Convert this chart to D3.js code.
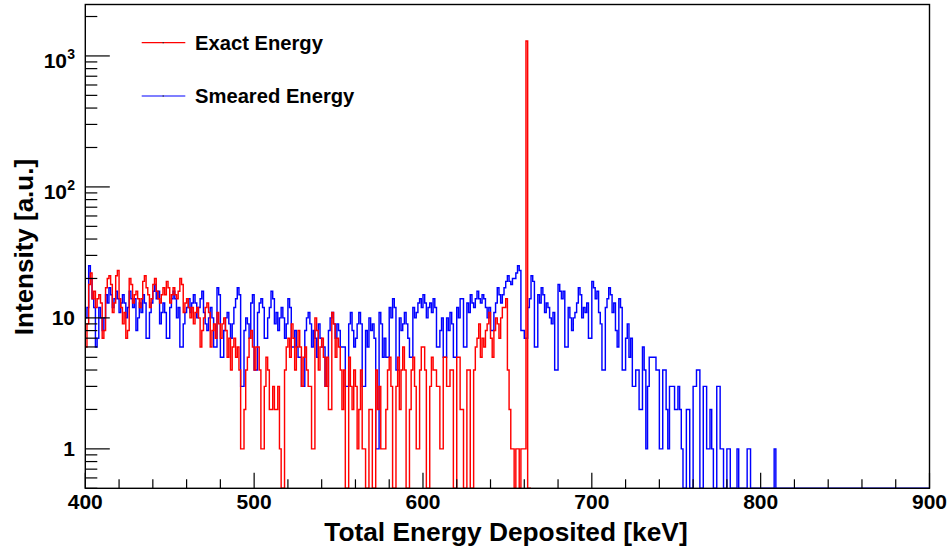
<!DOCTYPE html>
<html>
<head>
<meta charset="utf-8">
<script src="https://cdn.jsdelivr.net/npm/d3@7"></script>
<style>
  html, body { margin: 0; padding: 0; background: #fff; }
  svg { display: block; }
  text { font-family: "Liberation Sans", Arial, Helvetica, sans-serif; font-weight: bold; fill: #000; }
</style>
</head>
<body>
<svg id="chart" width="948" height="550"></svg>
<script>
// ---- data (1 keV bins starting at 400 keV) ----
const binStart = 400;
const binWidth = 1;
const xRange = [400, 900];
const yRange = [0.5, 2470];
const xTickValues = [400, 500, 600, 700, 800, 900];
const yMajorTicks = [1, 10, 100, 1000];
const seriesNames = ["Exact Energy", "Smeared Energy"];
const seriesColors = ["#ff0000", "#0000ff"];

const exactEnergy = [
  6,9,18,22,14,16,12,14,15,13,      // 400
  7,8,17,20,21,18,11,13,21,23,      // 410
  14,12,9,11,7,8,20,18,13,15,       // 420
  16,14,12,14,19,21,17,15,12,14,    // 430
  18,20,16,14,13,15,17,15,19,17,    // 440
  13,15,17,15,14,16,20,18,11,13,    // 450
  14,12,10,12,9,11,12,10,6,8,       // 460
  10,12,13,11,6,8,9,7,11,9,         // 470
  7,9,10,8,5,7,4,6,7,5,             // 480
  6,4,1,1,2,4,5,7,8,6,              // 490
  4,6,6,4,1,1,3,5,4,2,              // 500
  2,3,2,2,3,1,0,0,4,6,              // 510
  7,5,9,7,4,6,8,6,3,5,              // 520
  6,4,3,3,1,1,10,8,4,6,             // 530
  7,5,3,5,2,2,11,9,5,7,             // 540
  6,4,2,4,0,0,5,3,2,4,              // 550
  3,1,2,4,1,1,0,0,2,2,              // 560
  0,0,4,2,3,1,1,1,2,4,              // 570
  5,3,0,0,3,5,2,4,6,4,              // 580
  0,0,2,4,5,3,1,1,4,6,              // 590
  6,4,0,0,3,5,4,4,3,3,              // 600
  1,1,5,5,3,3,4,4,0,0,              // 610
  5,5,2,2,0,0,4,4,0,0,              // 620
  4,6,7,9,5,7,6,8,9,11,             // 630
  7,5,8,10,9,7,10,12,12,14,         // 640
  4,2,1,1,0,1,1,0,1,1,              // 650
  1,1300,0,0                        // 660
];

const smearedEnergy = [
  10,12,25,20,14,12,6,7,12,10,      // 400
  8,10,15,13,17,15,12,14,16,14,     // 410
  11,13,15,13,10,12,16,14,12,14,    // 420
  8,10,13,11,15,13,7,7,11,13,       // 430
  16,18,14,16,9,11,13,11,7,7,       // 440
  12,14,16,14,10,12,6,6,9,11,       // 450
  12,14,11,13,15,13,10,12,14,16,    // 460
  11,9,8,10,12,10,6,6,17,15,        // 470
  5,5,8,10,11,9,7,9,12,14,          // 480
  17,15,3,3,8,10,9,7,13,15,         // 490
  4,4,11,13,14,12,7,7,10,12,        // 500
  16,14,9,11,8,10,12,10,7,9,        // 510
  14,12,6,6,8,6,5,5,3,3,            // 520
  8,10,11,9,6,8,7,5,9,7,            // 530
  6,6,3,3,8,10,11,9,7,9,            // 540
  8,6,6,6,3,3,9,11,8,6,             // 550
  7,9,11,9,3,3,8,6,10,8,            // 560
  9,7,1,1,11,9,5,7,5,5,             // 570
  12,10,14,12,4,4,10,8,9,11,        // 580
  9,7,5,5,12,10,11,13,14,12,        // 590
  15,13,10,12,13,11,14,12,6,6,      // 600
  8,10,5,5,10,8,11,9,5,5,           // 610
  12,10,14,14,6,6,13,11,15,13,      // 620
  12,14,16,14,13,15,14,12,10,12,    // 630
  8,8,11,13,17,15,13,15,17,19,      // 640
  21,19,18,20,20,22,25,23,8,8,      // 650
  7,7,12,14,21,19,6,6,15,13,        // 660
  17,15,11,13,12,10,9,11,4,4,       // 670
  18,16,14,16,6,6,12,10,8,10,       // 680
  11,13,17,15,10,12,11,13,7,7,      // 690
  19,17,14,16,11,9,4,4,12,14,       // 700
  17,15,11,13,8,6,14,12,4,4,        // 710
  7,9,5,7,3,3,4,4,2,2,              // 720
  6,4,1,3,5,5,5,5,4,4,              // 730
  1,1,4,4,2,1,3,3,3,2,              // 740
  2,3,2,1,0,0,2,2,0,0,              // 750
  3,3,4,4,0,0,3,3,1,1,              // 760
  2,1,0,0,3,3,1,1,0,0,              // 770
  1,1,0,0,0,0,1,0,0,0,              // 780
  0,0,1,1,0,0,0,0,0,0,              // 790
  0,0,0,0,0,0,0,0,1,0               // 800
];

// ---- layout ----
const frame = { left: 85.3, right: 929.5, top: 4.5, bottom: 488.3 };

const svg = d3.select("#chart");
const x = d3.scaleLinear().domain(xRange).range([frame.left, frame.right]);
const y = d3.scaleLog().domain(yRange).range([frame.bottom, frame.top]);

svg.append("defs").append("clipPath").attr("id", "clip")
  .append("rect")
  .attr("x", frame.left).attr("y", frame.top - 1)
  .attr("width", frame.right - frame.left).attr("height", frame.bottom - frame.top + 1);

function yv(v) { return y(Math.max(v, yRange[0])); }

function histPath(vals, nBins) {
  const p = d3.path();
  p.moveTo(x(binStart), y(yRange[0]));
  for (let i = 0; i < nBins; i++) {
    const v = i < vals.length ? vals[i] : 0;
    const lo = binStart + i * binWidth, hi = lo + binWidth;
    p.lineTo(x(lo), yv(v));
    p.lineTo(x(hi), yv(v));
  }
  p.lineTo(x(binStart + nBins * binWidth), y(yRange[0]));
  return p.toString();
}

const plot = svg.append("g").attr("clip-path", "url(#clip)");
const totalBins = (xRange[1] - xRange[0]) / binWidth;

plot.append("path")
  .attr("d", histPath(smearedEnergy, totalBins))
  .attr("fill", "none").attr("stroke", seriesColors[1]).attr("stroke-width", 1.45);

plot.append("path")
  .attr("d", histPath(exactEnergy, exactEnergy.length))
  .attr("fill", "none").attr("stroke", seriesColors[0]).attr("stroke-width", 1.45);

// ---- frame ----
svg.append("rect")
  .attr("x", frame.left).attr("y", frame.top)
  .attr("width", frame.right - frame.left).attr("height", frame.bottom - frame.top)
  .attr("fill", "none").attr("stroke", "#000").attr("stroke-width", 1.4);

// ---- x ticks ----
const axes = svg.append("g").attr("stroke", "#000").attr("stroke-width", 1.2);
for (let t = xRange[0]; t <= xRange[1]; t += 20) {
  const major = t % 100 === 0;
  axes.append("line")
    .attr("x1", x(t)).attr("x2", x(t))
    .attr("y1", frame.bottom).attr("y2", frame.bottom - (major ? 15.5 : 9));
}
svg.append("g").selectAll("text").data(xTickValues).join("text")
  .attr("x", d => x(d)).attr("y", 508.5)
  .attr("text-anchor", "middle").attr("font-size", 21)
  .text(d => d);

// ---- y ticks ----
for (let e = -1; e <= 3; e++) {
  for (let k = 1; k <= 9; k++) {
    const v = k * Math.pow(10, e);
    if (v < yRange[0] - 1e-9 || v > yRange[1]) continue;
    axes.append("line")
      .attr("x1", frame.left).attr("x2", frame.left + (k === 1 ? 24.5 : 12))
      .attr("y1", y(v)).attr("y2", y(v));
  }
}
const yl = svg.append("g");
yMajorTicks.forEach(v => {
  const ty = y(v);
  const exp = Math.round(Math.log10(v));
  if (exp <= 1) {
    yl.append("text").attr("x", 75).attr("y", ty + 7.5)
      .attr("text-anchor", "end").attr("font-size", 21).text(String(v));
  } else {
    yl.append("text").attr("x", 67).attr("y", ty + 12.3)
      .attr("text-anchor", "end").attr("font-size", 21).text("10");
    yl.append("text").attr("x", 67.3).attr("y", ty + 3.5)
      .attr("text-anchor", "start").attr("font-size", 14).text(String(exp));
  }
});

// ---- axis titles ----
svg.append("text")
  .attr("x", 506).attr("y", 541)
  .attr("text-anchor", "middle").attr("font-size", 26.3)
  .text("Total Energy Deposited [keV]");

svg.append("text")
  .attr("transform", "translate(33,247) rotate(-90)")
  .attr("text-anchor", "middle").attr("font-size", 26)
  .text("Intensity [a.u.]");

// ---- legend ----
const legendY = [42.7, 96];
const legend = svg.append("g");
seriesNames.forEach((name, i) => {
  legend.append("line")
    .attr("x1", 141.7).attr("x2", 185.3)
    .attr("y1", legendY[i]).attr("y2", legendY[i])
    .attr("stroke", seriesColors[i]).attr("stroke-width", 1.2);
  legend.append("rect")
    .attr("x", 162.6).attr("y", legendY[i] - 0.6).attr("width", 1.2).attr("height", 1.2)
    .attr("fill", "#222");
  legend.append("text")
    .attr("x", 195).attr("y", legendY[i] + 7.2)
    .attr("font-size", 20.2).text(name);
});
</script>
</body>
</html>
